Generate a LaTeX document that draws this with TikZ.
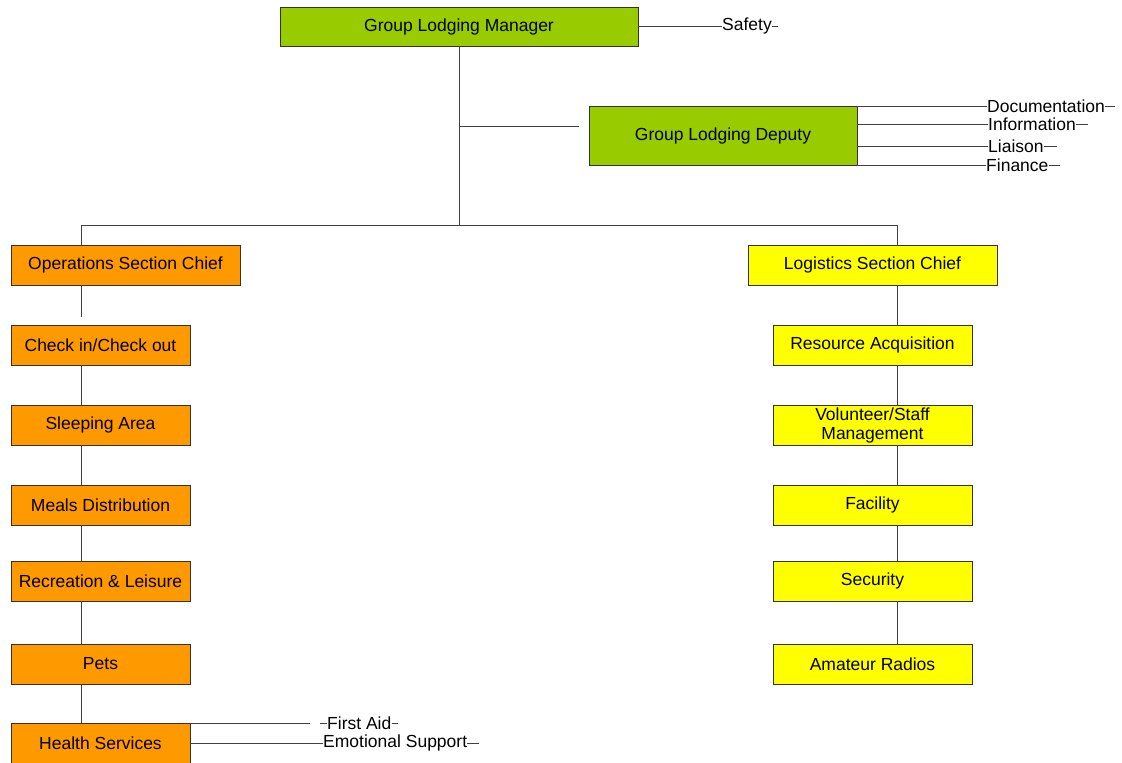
\documentclass[tikz,border=0pt]{standalone}
\usepackage{fontspec}
\setmainfont{Liberation Sans}
\usetikzlibrary{calc}
\definecolor{mgrgreen}{HTML}{99CC00}
\definecolor{opsorange}{HTML}{FF9900}
\definecolor{logyellow}{HTML}{FFFF00}
\begin{document}
\begin{tikzpicture}[x=1pt,y=-1pt,
  box/.style={draw=black!80, line width=0.8pt, minimum height=40pt, inner sep=0pt,
    align=center, font=\fontsize{17.5}{19}\selectfont},
  mgrbox/.style={box, fill=mgrgreen},
  opsbox/.style={box, fill=opsorange, minimum width=179pt},
  logbox/.style={box, fill=logyellow, minimum width=199pt},
  wire/.style={draw=black!75, line width=0.8pt},
  lbl/.style={inner sep=0pt, anchor=west, font=\fontsize{17.5}{19}\selectfont}
]
\useasboundingbox (0,0) rectangle (1122,763);

% command staff
\node[mgrbox, minimum width=358pt, minimum height=39pt] (mgr) at (459,26.5) {Group Lodging Manager};
\node[mgrbox, minimum width=268pt, minimum height=59pt] (dep) at (723,135.5) {Group Lodging Deputy};

% section chiefs
\node[opsbox, minimum width=229pt] (ops) at (125.5,265) {Operations Section Chief};
\node[logbox, minimum width=249pt] (log) at (872.5,265) {Logistics Section Chief};

% operations units
\node[opsbox] (ci)  at (100.5,345) {Check in/Check out};
\node[opsbox] (sa)  at (100.5,425) {Sleeping Area};
\node[opsbox] (md)  at (100.5,505) {Meals Distribution};
\node[opsbox] (rl)  at (100.5,581) {Recreation \& Leisure};
\node[opsbox] (pets) at (100.5,664) {Pets};
\node[opsbox] (hs)  at (100.5,743) {Health Services};

% logistics units
\node[logbox] (ra)  at (872.5,345) {Resource Acquisition};
\node[logbox] (vs)  at (872.5,425) {Volunteer/Staff\\Management};
\node[logbox] (fac) at (872.5,505) {Facility};
\node[logbox] (sec) at (872.5,581) {Security};
\node[logbox] (ar)  at (872.5,664) {Amateur Radios};

% trunk and branches
\coordinate (trunk) at (459,225);
\coordinate (lt) at (81,225);
\coordinate (rt) at (897,225);
\coordinate (dj) at (459,126);
\coordinate (dend) at (579,126);
\draw[wire] (mgr.south) -- (trunk);
\draw[wire] (dj) -- (dend);
\draw[wire] (lt) -- (rt);
\draw[wire] (lt) -- (lt |- ops.north);
\draw[wire] (rt) -- (rt |- log.north);

% operations chain
\draw[wire] (lt |- ops.south) -- ++(0,32);
\draw[wire] (lt |- ci.south) -- (lt |- sa.north);
\draw[wire] (lt |- sa.south) -- (lt |- md.north);
\draw[wire] (lt |- md.south) -- (lt |- rl.north);
\draw[wire] (lt |- rl.south) -- (lt |- pets.north);
\draw[wire] (lt |- pets.south) -- (lt |- hs.north);

% logistics chain
\draw[wire] (rt |- log.south) -- (rt |- ra.north);
\draw[wire] (rt |- ra.south) -- (rt |- vs.north);
\draw[wire] (rt |- vs.south) -- (rt |- fac.north);
\draw[wire] (rt |- fac.south) -- (rt |- sec.north);
\draw[wire] (rt |- sec.south) -- (rt |- ar.north);

% safety officer
\node[lbl] (safety) at (722,26) {Safety};
\draw[wire] (mgr.east |- safety.west) -- (safety.west);
\draw[wire] (safety.east) -- ++(6,0);

% deputy staff
\node[lbl] (doc)  at (987,106) {Documentation};
\node[lbl] (info) at (988,124) {Information};
\node[lbl] (liai) at (988,146) {Liaison};
\node[lbl] (fin)  at (986,165) {Finance};
\draw[wire] (dep.east |- doc.west) -- (doc.west);
\draw[wire] (dep.east |- info.west) -- (info.west);
\draw[wire] (dep.east |- liai.west) -- (liai.west);
\draw[wire] (dep.east |- fin.west) -- (fin.west);
\draw[wire] (doc.east) -- ++(10,0);
\draw[wire] (info.east) -- ++(12,0);
\draw[wire] (liai.east) -- ++(13,0);
\draw[wire] (fin.east) -- ++(11,0);

% health services units
\node[lbl] (fa) at (327,723) {First Aid};
\node[lbl] (es) at (323,743) {Emotional Support};
\coordinate (faend) at (310,723);
\draw[wire] (hs.east |- faend) -- (faend);
\draw[wire] ($(fa.west)+(-7,0)$) -- (fa.west);
\draw[wire] (fa.east) -- ++(6,0);
\draw[wire] (hs.east) -- (es.west);
\draw[wire] (es.east) -- ++(12,0);
\end{tikzpicture}
\end{document}
